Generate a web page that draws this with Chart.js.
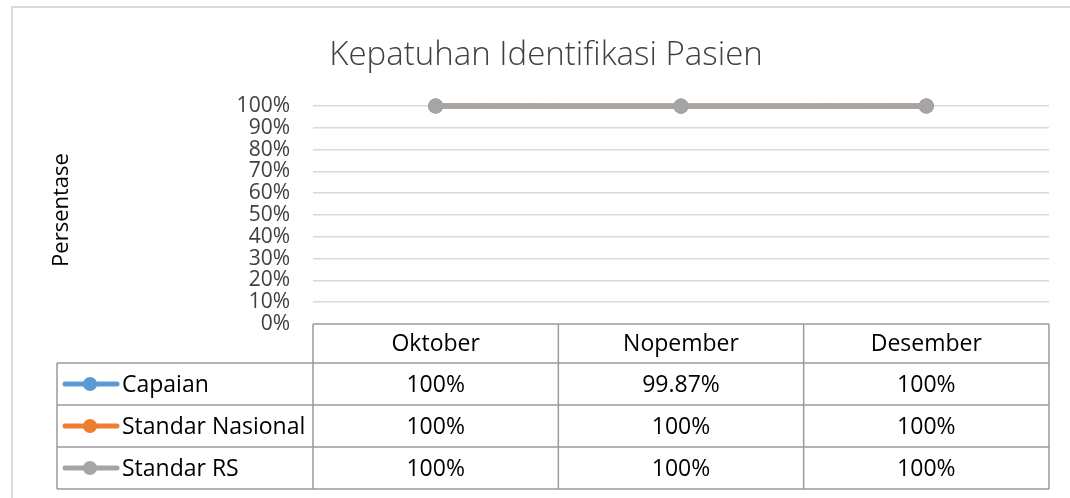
<!DOCTYPE html>
<html>
<head>
<meta charset="utf-8">
<script src="https://cdn.jsdelivr.net/npm/chart.js@4.4.1/dist/chart.umd.min.js"></script>
<style>
  html, body { margin: 0; padding: 0; background: #fff; }
  #wrap { width: 1070px; height: 498px; }
</style>
</head>
<body>
<div id="wrap"><canvas id="myChart1" width="1070" height="498"></canvas></div>
<script>
var bulan = ['Oktober', 'Nopember', 'Desember'];
var capaian = [100, 99.87, 100];
var standarNasional = [100, 100, 100];
var standarRS = [100, 100, 100];
var yTicks = [0, 10, 20, 30, 40, 50, 60, 70, 80, 90, 100];
var seriesNames = ['Capaian', 'Standar Nasional', 'Standar RS'];
var colors = ['#5b9bd5', '#ed7d31', '#a5a5a5'];
var font = '"Open Sans", "Noto Sans", sans-serif';

function fmt(v) {
    return (Math.round(v) === v ? v : v.toFixed(2)) + '%';
}

// title, y title, outer frame and the data table under the plot
var tablePlugin = {
    id: 'dataTable',
    afterDraw: function (chart) {
        var ctx = chart.ctx;
        var area = chart.chartArea;
        var x = chart.scales.x;
        var colW = (area.right - area.left) / bulan.length;
        var headH = 39, rowH = 42, legLeft = 57;
        var series = [capaian, standarNasional, standarRS];
        ctx.save();

        // frame
        ctx.strokeStyle = '#d9d9d9';
        ctx.lineWidth = 2;
        ctx.beginPath();
        ctx.moveTo(12, 498);
        ctx.lineTo(12, 7);
        ctx.lineTo(1070, 7);
        ctx.stroke();

        // title
        ctx.fillStyle = '#404040';
        ctx.font = '300 33px ' + font;
        ctx.textAlign = 'center';
        ctx.textBaseline = 'middle';
        ctx.fillText('Kepatuhan Identifikasi Pasien', 546, 56);

        // y axis title
        ctx.save();
        ctx.translate(62, 210);
        ctx.rotate(-Math.PI / 2);
        ctx.font = '22px ' + font;
        ctx.fillStyle = '#000';
        ctx.fillText('Persentase', 0, 0);
        ctx.restore();

        // table grid
        var top = area.bottom;
        var bottom = top + headH + rowH * series.length;
        ctx.strokeStyle = '#9b9b9b';
        ctx.lineWidth = 1.5;
        ctx.beginPath();
        ctx.moveTo(area.left, top); ctx.lineTo(area.right, top);
        for (var r = 0; r <= series.length; r++) {
            var yy = top + headH + rowH * r;
            ctx.moveTo(legLeft, yy); ctx.lineTo(area.right, yy);
        }
        ctx.moveTo(legLeft, top + headH); ctx.lineTo(legLeft, bottom);
        for (var c = 0; c <= bulan.length; c++) {
            var xx = area.left + colW * c;
            ctx.moveTo(xx, top); ctx.lineTo(xx, bottom);
        }
        ctx.stroke();

        // header and values
        ctx.fillStyle = '#000';
        ctx.font = '23px ' + font;
        ctx.textAlign = 'center';
        ctx.textBaseline = 'middle';
        for (var i = 0; i < bulan.length; i++) {
            var cx = x.getPixelForValue(i);
            ctx.fillText(bulan[i], cx, top + headH / 2 + 1);
            for (var s = 0; s < series.length; s++) {
                ctx.fillText(fmt(series[s][i]), cx, top + headH + rowH * s + rowH / 2 + 1);
            }
        }

        // legend keys
        for (var k = 0; k < series.length; k++) {
            var ky = top + headH + rowH * k + rowH / 2;
            ctx.strokeStyle = colors[k];
            ctx.lineWidth = 5;
            ctx.lineCap = 'round';
            ctx.beginPath();
            ctx.moveTo(65, ky); ctx.lineTo(117, ky);
            ctx.stroke();
            ctx.fillStyle = colors[k];
            ctx.beginPath();
            ctx.arc(90, ky, 7, 0, Math.PI * 2);
            ctx.fill();
            ctx.fillStyle = '#000';
            ctx.textAlign = 'left';
            ctx.fillText(seriesNames[k], 122, ky + 1);
        }
        ctx.restore();
    }
};

var ctx = document.getElementById('myChart1').getContext('2d');
var thisChart = new Chart(ctx, {
    type: 'line',
    data: {
        labels: bulan,
        datasets: [{
            label: seriesNames[0],
            data: capaian,
            borderColor: colors[0],
            backgroundColor: colors[0],
            order: 3
        }, {
            label: seriesNames[1],
            data: standarNasional,
            borderColor: colors[1],
            backgroundColor: colors[1],
            order: 2
        }, {
            label: seriesNames[2],
            data: standarRS,
            borderColor: colors[2],
            backgroundColor: colors[2],
            order: 1
        }]
    },
    options: {
        responsive: false,
        animation: false,
        layout: { padding: { left: 0, right: 21, top: 106, bottom: 174 } },
        datasets: { line: { clip: false } },
        elements: {
            line: { borderWidth: 5, tension: 0 },
            point: { radius: 7.5, borderWidth: 0, hoverRadius: 7.5 }
        },
        plugins: {
            legend: { display: false },
            title: { display: false },
            tooltip: { enabled: false }
        },
        scales: {
            x: {
                display: false,
                offset: true
            },
            y: {
                min: 0,
                max: 100,
                afterFit: function (scale) { scale.width = 313; },
                afterBuildTicks: function (scale) {
                    scale.ticks = yTicks.map(function (v) { return { value: v }; });
                },
                border: { display: false },
                grid: {
                    drawTicks: false,
                    lineWidth: 1.5,
                    color: function (c) { return c.tick && c.tick.value === 0 ? 'rgba(0,0,0,0)' : '#d9d9d9'; }
                },
                ticks: {
                    autoSkip: false,
                    padding: 23,
                    color: '#404040',
                    font: { family: font, size: 21 },
                    callback: function (v) { return v + '%'; }
                }
            }
        }
    },
    plugins: [tablePlugin]
});
</script>
</body>
</html>
